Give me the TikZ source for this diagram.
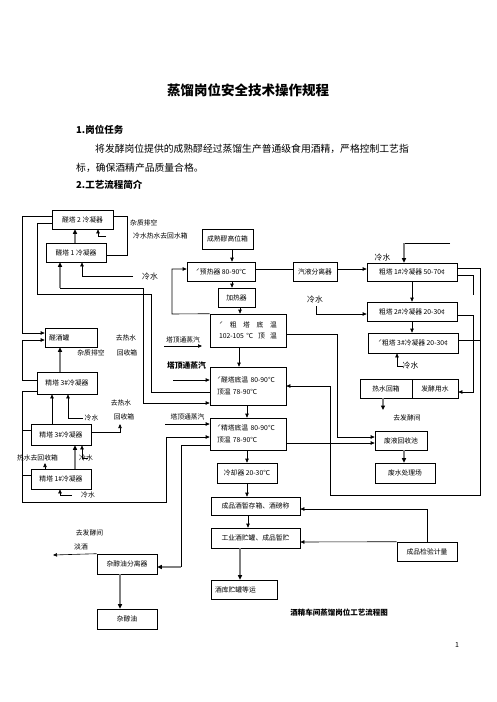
\documentclass[tikz,border=0pt]{standalone}
\usepackage{fontspec}
\setmainfont{Noto Sans CJK SC}
\usetikzlibrary{arrows.meta,calc}
\begin{document}
\begin{tikzpicture}[x=1pt,y=-1pt,
  bx/.style={draw, line width=0.6pt, inner sep=0pt, font=\fontsize{6.8}{8}\selectfont, align=center},
  lb/.style={inner sep=0pt, font=\fontsize{6.8}{8}\selectfont},
  lbb/.style={inner sep=0pt, font=\fontsize{7.8}{9}\selectfont},
  ln/.style={line width=0.6pt},
  arr/.style={line width=0.6pt, -{Triangle[length=4pt,width=3.4pt]}},
  garr/.style={line width=1.5pt, draw=black!50, -{Triangle[length=4.5pt,width=4pt,color=black]}}]
\useasboundingbox (0,0) rectangle (496,702);
% headings
\node[inner sep=0pt, font=\fontsize{13.5}{15}\selectfont\bfseries] (title) at (248,90) {蒸馏岗位安全技术操作规程};
\node[inner sep=0pt, anchor=west, font=\fontsize{9.5}{11}\selectfont\bfseries] (h1) at (76,130) {1.岗位任务};
\node[inner sep=0pt, anchor=west, font=\fontsize{9.8}{11}\selectfont] (p1) at (95,149) {将发酵岗位提供的成熟醪经过蒸馏生产普通级食用酒精，严格控制工艺指};
\node[inner sep=0pt, anchor=west, font=\fontsize{9.8}{11}\selectfont] (p2) at (76,168) {标，确保酒精产品质量合格。};
\node[inner sep=0pt, anchor=west, font=\fontsize{9.5}{11}\selectfont\bfseries] (h2) at (76,185) {2.工艺流程简介};
% boxes
\node[bx, minimum width=61pt, minimum height=19pt] (r2) at (82.5,219.5) {醛塔 2 冷凝器};
\node[bx, minimum width=60pt, minimum height=19pt] (r1) at (76,252.5) {醛塔 1 冷凝器};
\node[bx, minimum width=52pt, minimum height=19pt, text width=44pt, align=left] (qjg) at (71,337.5) {醛酒罐};
\node[bx, minimum width=60pt, minimum height=22pt] (j3a) at (67,383) {精塔 3\#冷凝器};
\node[bx, minimum width=60pt, minimum height=21pt] (j3b) at (61,434.5) {精塔 3\#冷凝器};
\node[bx, minimum width=60pt, minimum height=20pt] (j1) at (61,479) {精塔 1\#冷凝器};
\node[bx, minimum width=51pt, minimum height=20pt] (csl) at (227.5,239) {成熟醪高位箱};
\node[bx, minimum width=68pt, minimum height=19pt] (yrq) at (221,271.5) {ˊ预热器 80-90℃};
\node[bx, minimum width=44pt, minimum height=19pt] (qyf) at (315,271.5) {汽液分离器};
\node[bx, minimum width=37pt, minimum height=19pt] (jrq) at (236.5,297.5) {加热器};
\node[bx, minimum width=76pt, minimum height=33pt, text width=58pt, align=left] (ct) at (248,330.5) {ˊ\hfill 粗\hfill 塔\hfill 底\hfill 温\\[3pt]102-105 ℃\hfill 顶\hfill 温};
\node[bx, minimum width=76pt, minimum height=38pt, text width=62pt, align=left] (qt) at (248,386) {ˊ醛塔底温 80-90℃\\[4pt]顶温 78-90℃};
\node[bx, minimum width=76pt, minimum height=32pt, text width=62pt, align=left] (jt) at (248,434) {ˊ精塔底温 80-90℃\\[4pt]顶温 78-90℃};
\node[bx, minimum width=60pt, minimum height=20pt] (lqq) at (247,473) {冷却器 20-30℃};
\node[bx, minimum width=89pt, minimum height=18pt] (cpj) at (255.5,506) {成品酒暂存箱、酒磅称};
\node[bx, minimum width=89pt, minimum height=20pt] (gyj) at (255.5,538) {工业酒贮罐、成品暂贮};
\node[bx, minimum width=66pt, minimum height=19pt, text width=58pt, align=left] (jk) at (244,589.5) {酒库贮罐等运};
\node[bx, minimum width=60pt, minimum height=19pt] (cpjy) at (427,551.5) {成品检验计量};
\node[bx, minimum width=60pt, minimum height=20pt] (zcy) at (127,564) {杂醇油分离器};
\node[bx, minimum width=60pt, minimum height=20pt] (zco) at (127,619) {杂醇油};
\node[bx, minimum width=90pt, minimum height=18pt] (c1) at (412,272) {粗塔 1\#冷凝器 50-70¢};
\node[bx, minimum width=90pt, minimum height=19pt] (c2) at (412,311.5) {粗塔 2\#冷凝器 20-30¢};
\node[bx, minimum width=90pt, minimum height=20pt] (c3) at (413,343) {ˊ粗塔 3\#冷凝器 20-30¢};
\node[bx, minimum width=52pt, minimum height=19pt] (rsh) at (386,388.5) {热水回箱};
\node[bx, minimum width=46pt, minimum height=19pt] (fjys) at (435,388.5) {发酵用水};
\node[bx, minimum width=52pt, minimum height=19pt] (fyh) at (401,440.5) {废液回收池};
\node[bx, minimum width=60pt, minimum height=20pt] (fcl) at (405,473) {废水处理场};
% labels
\node[lb, anchor=west] (t1) at (130,223) {杂质排空};
\node[lb, anchor=west] (t2) at (133,236) {冷水热水去回水箱};
\node[lbb, anchor=west] (t3) at (142,277) {冷水};
\node[lb] (t4) at (91,353) {杂质排空};
\node[lb] (t5) at (126,338) {去热水};
\node[lb] (t6) at (127,353) {回收箱};
\node[lb] (t7) at (121,403) {去热水};
\node[lb] (t8) at (124,417) {回收箱};
\node[lb] (t9) at (91.5,418) {冷水};
\node[lb] (t10) at (37.5,458) {热水去回收箱};
\node[lb] (t11) at (86,458) {冷水};
\node[lb] (t12) at (88,495) {冷水};
\node[lb] (t13) at (183,340) {塔顶通蒸汽};
\node[lbb, font=\fontsize{7.8}{9}\selectfont\bfseries] (t14) at (186.5,366) {塔顶通蒸汽};
\node[lb] (t15) at (187.5,417) {塔顶通蒸汽};
\node[lb] (t16) at (89.5,533) {去发酵间};
\node[lb] (t17) at (81,547) {淡酒};
\node[lbb] (t18) at (382.5,258) {冷水};
\node[lbb] (t19) at (315,300) {冷水};
\node[lbb] (t20) at (410.5,366) {冷水};
\node[lb] (t21) at (407,418) {去发酵间};
\node[inner sep=0pt, font=\fontsize{7.5}{9}\selectfont\bfseries] (cap) at (339,613) {酒精车间蒸馏岗位工艺流程图};
\node[inner sep=0pt, font=\fontsize{7}{8}\selectfont] (pg) at (457,645) {1};
% connectors
\draw[garr] (r1.north -| 75,0) -- (r2.south -| 75,0);
\coordinate (w1) at (106,236);
\draw[arr] (w1) -- (98,236) -- (r2.south -| 98,0);
\draw[ln] (r2.east |- 0,216) -- (127,216) -- (127,255) -- (r1.east |- 0,255);
\coordinate (w2) at (133,276);
\draw[arr] (w2) -- (82,276) -- (r1.south -| 82,0);
\coordinate (j5) at (60,288);
\draw[garr] (j5) -- (r1.south -| 60,0);
\draw[arr] (j5) -- (143,288) -- (143,403) -- (qt.west |- 0,403);
\draw[ln] (r2.west |- 0,223) -- (37.7,223) -- (37.7,294) -- (151,294) -- (151,392) -- (qt.west |- 0,392);
\draw[arr] (r2.west |- 0,216) -- (22,216) -- (22,333) -- (qjg.west |- 0,333);
\draw[arr] (j3a.west |- 0,380) -- (22,380) -- (22,340) -- (qjg.west |- 0,340);
\draw[garr] (j3a.north -| 60,0) -- (qjg.south -| 60,0);
\draw[arr] (j3b.north -| 52,0) -- (j3a.south -| 52,0);
\coordinate (w3) at (83,418);
\draw[arr] (w3) -- (68,418) -- (j3a.south -| 68,0);
\coordinate (w4) at (120,424);
\draw[arr] (j3b.east |- 0,432) -- (120,432) -- (w4);
\coordinate (w5) at (45,463);
\draw[arr] (j1.north -| 45,0) -- (w5);
\draw[garr] (j1.north -| 75,0) -- (j3b.south -| 75,0);
\coordinate (w6) at (88,458);
\draw[arr] (w6) -- (82,458) -- (j3b.south -| 82,0);
\coordinate (w7) at (72,495);
\draw[arr] (w7) -- (60,495) -- (j1.south -| 60,0);
\draw[arr] (j3a.west |- 0,391) -- (22,391) -- (22,502) -- (166,502) -- (166,437) -- (jt.west |- 0,437);
\draw[ln] (j3b.west |- 0,430) -- (22,430);
\draw[ln] (j1.west |- 0,475) -- (22,475);
\draw[ln] (jt.west |- 0,445) -- (181,445) -- (181,567);
\draw[garr] (181,567) -- (zcy.east |- 0,567);
\coordinate (w8) at (53,555);
\draw[arr] (zcy.north west) -- (w8);
\draw[garr] (zcy.south -| 120,0) -- (zco.north -| 120,0);
\draw[arr] (ct.north west) -- (172,314) -- (172,269) -- (yrq.west |- 0,269);
\draw[arr] (csl.south -| 232,0) -- (yrq.north -| 232,0);
\draw[arr] (yrq.south -| 232,0) -- (jrq.north -| 232,0);
\draw[arr] (jrq.south -| 240,0) -- (ct.north -| 240,0);
\draw[ln] (yrq.east |- 0,269) -- (qyf.west |- 0,269);
\draw[arr] (qyf.east |- 0,269) -- (c1.west |- 0,269);
\coordinate (w9) at (450,243);
\draw[ln] (w9) -- (404,243);
\draw[garr] (404,243) -- (c1.north -| 404,0);
\draw[arr] (c1.south -| 412,0) -- (c2.north -| 412,0);
\draw[arr] (c2.south -| 412,0) -- (c3.north -| 412,0);
\coordinate (w10) at (316,306);
\draw[arr] (w10) -- (316,314) -- (c2.west |- 0,314);
\coordinate (w11) at (403,366);
\draw[arr] (w11) -- (397,366) -- (c3.south -| 397,0);
\draw[arr] (c1.east |- 0,268) -- (480,268) -- (480,495) -- (330,495) -- (330,386) -- (qt.east |- 0,386);
\draw[ln] (c1.east |- 0,275) -- (473,275) -- (473,295);
\draw[arr] (c2.east |- 0,315) -- (473,315) -- (473,392) -- (fjys.east |- 0,392);
\draw[ln] (c3.east |- 0,340) -- (480,340);
\draw[arr] (ct.east |- 0,334) -- (337,334) -- (337,437) -- (fyh.west |- 0,437);
\draw[arr] (jt.east |- 0,443) -- (fyh.west |- 0,443);
\draw[garr] (fyh.south -| 404,0) -- (fcl.north -| 404,0);
\coordinate (w12) at (383,410);
\draw[garr] (rsh.south -| 383,0) -- (w12);
\draw[arr] (ct.south -| 239,0) -- (qt.north -| 239,0);
\draw[arr] (qt.south -| 247,0) -- (jt.north -| 247,0);
\draw[arr] (jt.south -| 247,0) -- (lqq.north -| 247,0);
\draw[arr] (lqq.south -| 247,0) -- (cpj.north -| 247,0);
\draw[arr] (cpj.south -| 248,0) -- (gyj.north -| 248,0);
\draw[garr] (gyj.south -| 240,0) -- (jk.north -| 240,0);
\draw[arr] (cpjy.north -| 427,0) -- (427,509) -- (cpj.east |- 0,509);
\draw[arr] (cpjy.north west) -- (gyj.east |- 0,542);
\coordinate (s1) at (173,380);
\draw[arr] (s1) -- (qt.west |- s1);
\coordinate (s2) at (165,424);
\draw[arr] (s2) -- (jt.west |- s2);
\coordinate (s3) at (164,346);
\coordinate (s3e) at (202,346);
\draw[arr] (s3) -- (s3e);
\end{tikzpicture}
\end{document}
